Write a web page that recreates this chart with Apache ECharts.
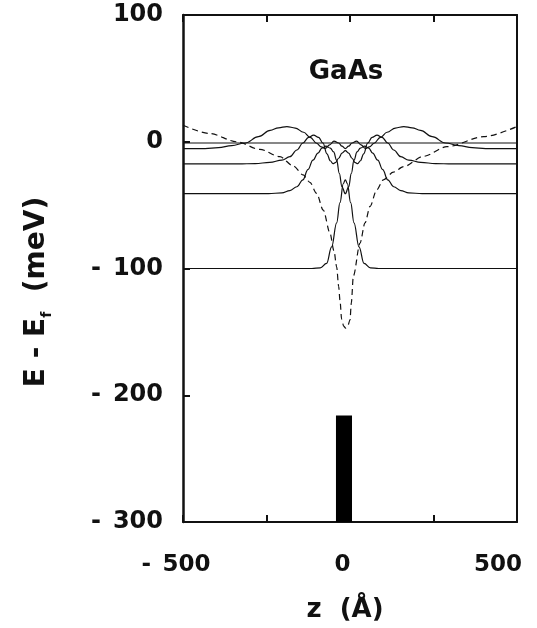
<!DOCTYPE html>
<html>
<head>
<meta charset="utf-8">
<script src="https://cdn.jsdelivr.net/npm/echarts@6/dist/echarts.min.js"></script>
<style>
  html, body { margin: 0; padding: 0; background: #fff; }
  #chart { width: 537px; height: 628px; }
</style>
</head>
<body>
<div id="chart"></div>
<script>
// Axis ticks / labels
const zTicks = [-500, 0, 500];
const energyTicks = [100, 0, -100, -200, -300];

// Fermi level (meV)
const fermiLevel = [[-500, -1], [500, -1]];

// Self-consistent potential profile V(z), meV
const potential = [
  [-500, 13], [-420, 6.5], [-339, 0], [-270, -6], [-210, -11.8], [-170, -19],
  [-140, -26.2], [-120, -32], [-100, -40.7], [-80, -54], [-60, -72], [-48, -86],
  [-40, -98.6], [-34, -114], [-30, -125], [-25, -140], [-19, -145.5], [-13, -147],
  [-7, -145.5], [0, -140.6], [4, -127], [10, -106], [30, -80], [45, -64],
  [60, -51], [80, -38], [100, -30], [130, -24], [160, -19.7], [220, -11.5],
  [290, -3.9], [400, 4], [500, 12]
];

// Subband densities drawn on their own energy levels
const subband0 = [
  [-500, -100], [-114, -100], [-89, -99.5], [-70, -96], [-55, -83], [-40, -64],
  [-30, -48], [-20, -33], [-14, -30], [-8, -33], [2, -48], [12, -64], [27, -83],
  [42, -96], [61, -99.5], [86, -100], [500, -100]
];
const subband1 = [
  [-500, -41], [-244, -41], [-204, -40.3], [-180, -38.5], [-159, -35.5], [-141, -30],
  [-126, -22], [-111, -14.5], [-96, -9], [-84, -5], [-72, -3.5], [-59, -5], [-49, -8],
  [-40, -14.5], [-32, -25], [-24, -35.5], [-14, -41], [-4, -35.5], [4, -25], [12, -14.5],
  [21, -8], [31, -5], [44, -3.5], [56, -5], [68, -9], [83, -14.5], [98, -22], [113, -30],
  [131, -35.5], [152, -38.5], [176, -40.3], [216, -41], [500, -41]
];
const subband2 = [
  [-500, -17.5], [-334, -17.5], [-284, -17.2], [-240, -16.3], [-204, -14.5], [-180, -11.8],
  [-159, -6.5], [-141, -1], [-124, 3.5], [-109, 5.3], [-94, 3.5], [-81, -1], [-69, -9.5],
  [-59, -15], [-51, -17.3], [-44, -16.5], [-34, -13], [-24, -9], [-14, -7], [-4, -9],
  [6, -13], [16, -16.5], [23, -17.3], [31, -15], [41, -9.5], [53, -1], [66, 3.5],
  [81, 5.3], [96, 3.5], [113, -1], [131, -6.5], [152, -11.8], [176, -14.5], [212, -16.3],
  [256, -17.2], [306, -17.5], [500, -17.5]
];
const subband3 = [
  [-500, -5.5], [-434, -5.4], [-394, -4.7], [-354, -3], [-314, -1], [-274, 4], [-239, 9],
  [-214, 11], [-189, 12], [-164, 10.8], [-139, 7.5], [-119, 3.5], [-100, -1.2], [-86, -4],
  [-74, -5.3], [-61, -2.5], [-48, 0.5], [-34, -1], [-24, -3.5], [-14, -5.5], [-4, -3.5],
  [6, -1], [20, 0.5], [33, -2.5], [46, -5.3], [58, -4], [72, -1.2], [91, 3.5], [111, 7.5],
  [136, 10.8], [161, 12], [186, 11], [211, 9], [246, 4], [286, -1], [326, -3], [366, -4.7],
  [406, -5.4], [500, -5.5]
];

// Si delta-doped sheet: [z from, z to, E top, E bottom]
const dopingSheet = [[-42, 6, -216, -300]];

const FONT = 'DejaVu Sans';
const INK = '#111';

function curve(data) {
  return {
    type: 'line', data, showSymbol: false, smooth: 0.4, smoothMonotone: 'x',
    lineStyle: { color: INK, width: 1.2 }, z: 3, silent: true
  };
}

function ticks() {
  return { show: true, inside: true, interval: 0, length: 7, lineStyle: { color: INK, width: 2 } };
}

// signed tick text with a gap after the minus sign
function signed(v) {
  return v < 0 ? '-\u2002' + Math.abs(v) : String(v);
}

const chart = echarts.init(document.getElementById('chart'), null, { renderer: 'canvas' });

const xLabelRich = {
  lo: { fontFamily: FONT, fontWeight: 'bold', fontSize: 23, color: INK, padding: [0, 14, 0, 0] },
  mid: { fontFamily: FONT, fontWeight: 'bold', fontSize: 23, color: INK, padding: [0, 15, 0, 0] },
  hi: { fontFamily: FONT, fontWeight: 'bold', fontSize: 23, color: INK, padding: [0, 38, 0, 0] }
};

chart.setOption({
  animation: false,
  backgroundColor: '#fff',
  grid: { left: 183, right: 20, top: 15, bottom: 106 },
  xAxis: [
    {
      type: 'value', min: -500, max: 500, interval: 250, position: 'bottom',
      axisLine: { show: true, onZero: false, lineStyle: { color: INK, width: 2 } },
      axisTick: ticks(),
      splitLine: { show: false },
      axisLabel: {
        show: true, margin: 32, interval: 0,
        rich: xLabelRich,
        formatter: v => {
          if (!zTicks.includes(v)) return '';
          const key = v < 0 ? 'lo' : (v > 0 ? 'hi' : 'mid');
          return '{' + key + '|' + signed(v) + '}';
        }
      }
    },
    {
      type: 'value', min: -500, max: 500, interval: 250, position: 'top',
      axisLine: { show: true, onZero: false, lineStyle: { color: INK, width: 2 } },
      axisTick: ticks(),
      axisLabel: { show: false }, splitLine: { show: false }
    }
  ],
  yAxis: [
    {
      type: 'value', min: -300, max: 100, interval: 100, position: 'left',
      axisLine: { show: true, onZero: false, lineStyle: { color: INK, width: 2.5 } },
      axisTick: ticks(),
      splitLine: { show: false },
      axisLabel: {
        show: true, margin: 20, fontFamily: FONT, fontWeight: 'bold', fontSize: 24, color: INK,
        formatter: v => energyTicks.includes(v) ? signed(v) : ''
      }
    },
    {
      type: 'value', min: -300, max: 100, interval: 100, position: 'right',
      axisLine: { show: true, onZero: false, lineStyle: { color: INK, width: 2 } },
      axisTick: { show: false }, axisLabel: { show: false }, splitLine: { show: false }
    }
  ],
  graphic: [
    {
      type: 'text', x: 346, y: 72,
      style: { text: 'GaAs', font: 'bold 26px "DejaVu Sans"', fill: INK, textAlign: 'center', textVerticalAlign: 'middle' }
    },
    {
      type: 'text', x: 345, y: 610,
      style: { text: 'z  (Å)', font: 'bold 26px "DejaVu Sans"', fill: INK, textAlign: 'center', textVerticalAlign: 'middle' }
    },
    {
      type: 'text', x: 37, y: 292, rotation: Math.PI / 2,
      style: {
        text: '{a|E - E}{s|f}{a|  (meV)}',
        textAlign: 'center', textVerticalAlign: 'middle', fill: INK,
        rich: {
          a: { fontFamily: FONT, fontWeight: 'bold', fontSize: 28, lineHeight: 34, fill: INK },
          s: { fontFamily: FONT, fontWeight: 'bold', fontSize: 14, lineHeight: 20, verticalAlign: 'bottom', fill: INK }
        }
      }
    }
  ],
  series: [
    {
      type: 'line', data: fermiLevel, showSymbol: false,
      lineStyle: { color: INK, width: 1.2 }, z: 3, silent: true
    },
    {
      type: 'line', data: potential, showSymbol: false, smooth: 0.3, smoothMonotone: 'x',
      lineStyle: { color: INK, width: 1.2, type: [6, 4] }, z: 3, silent: true
    },
    curve(subband0),
    curve(subband1),
    curve(subband2),
    curve(subband3),
    {
      type: 'custom', data: dopingSheet, silent: true, z: 4,
      renderItem: (params, api) => {
        const p0 = api.coord([api.value(0), api.value(2)]);
        const p1 = api.coord([api.value(1), api.value(3)]);
        return {
          type: 'rect',
          shape: { x: p0[0], y: p0[1], width: p1[0] - p0[0], height: p1[1] - p0[1] },
          style: { fill: '#000' }
        };
      }
    }
  ]
});
</script>
</body>
</html>
